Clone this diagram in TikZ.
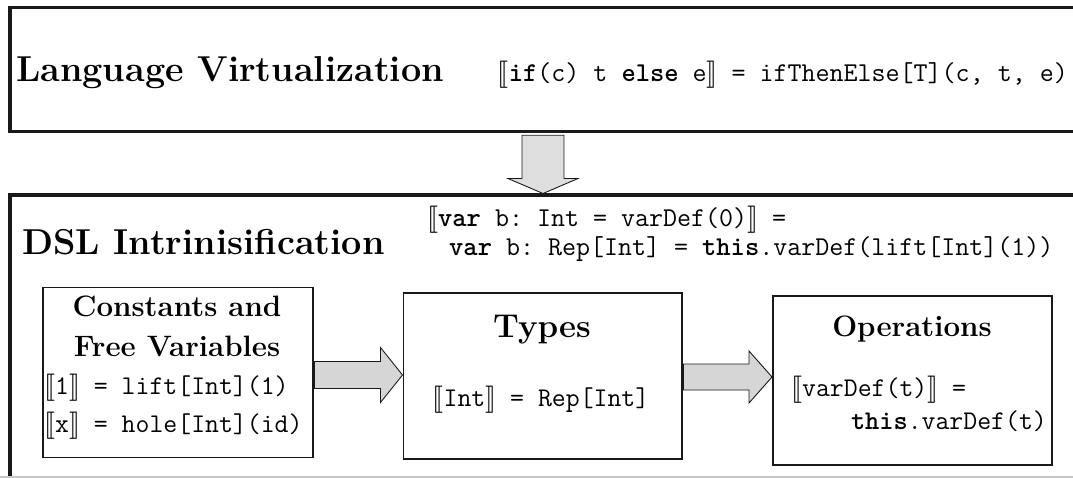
\documentclass[tikz,border=0pt]{standalone}
\usepackage{fontspec}
\usepackage{stmaryrd}
\usepackage{graphicx}
\usetikzlibrary{calc}

\definecolor{ink}{gray}{0.1}
\definecolor{arrowfill}{gray}{0.84}
\definecolor{downfill}{gray}{0.87}
\definecolor{edgegray}{gray}{0.78}

% semantic brackets, scaled to the code font
\newcommand{\lbr}{\scalebox{2.72}{\fontsize{10}{12}\selectfont$\llbracket$}}
\newcommand{\rbr}{\scalebox{2.72}{\fontsize{10}{12}\selectfont$\rrbracket$}}

\tikzset{
  frame/.style={draw=ink, line width=3.5pt, inner sep=0},
  ibox/.style={draw=ink, line width=1.6pt, inner sep=0},
  blk/.style={draw=ink, line width=0.9pt, fill=arrowfill, line join=miter},
  ttl/.style={font=\fontsize{36}{40}\selectfont\bfseries, anchor=base west, inner sep=0},
  hd/.style={font=\fontsize{29.5}{32}\selectfont\bfseries, anchor=base, inner sep=0},
  code/.style={font=\fontsize{27.2}{28}\selectfont\ttfamily\frenchspacing, inner sep=0},
  bcode/.style={font=\fontsize{27}{28}\selectfont\ttfamily\frenchspacing, inner sep=0},
}

\begin{document}
\begin{tikzpicture}[x=1pt,y=-1pt]
\useasboundingbox (0,0) rectangle (1073,478);
\clip (0,0) rectangle (1073,478);

% stage frames
\node[frame, anchor=north west, minimum width=1100, minimum height=124] (virt) at (8,6) {};
\node[frame, anchor=north west, minimum width=1100, minimum height=400] (intr) at (8,193.5) {};
\draw[edgegray, line width=1.2pt] (0,477) -- (1073,477);

% language virtualization
\node[ttl] (lvt) at (16,82) {Language Virtualization};
\node[code, anchor=base east] (lvc) at (1068,82)
  {\lbr\textbf{if}(c) t \textbf{else} e\rbr{} = ifThenElse[T](c, t, e)};

% DSL intrinsification
\node[ttl] (dst) at (22,255) {DSL Intrinisification};
\node[code, anchor=base west] (dc1) at (427,227)
  {\lbr\textbf{var} b: Int = varDef(0)\rbr{} =};
\node[code, anchor=base west] (dc2) at (449,256)
  {\textbf{var} b: Rep[Int] = \textbf{this}.varDef(lift[Int](1))};

% inner boxes
\node[ibox, anchor=north west, minimum width=270, minimum height=170] (cfv) at (42,286.5) {};
\node[ibox, anchor=north west, minimum width=278.5, minimum height=166] (typ) at (402.5,292) {};
\node[ibox, anchor=north west, minimum width=279, minimum height=169] (ops) at (772,295) {};

\node[hd] (cfv1) at (177,316.5) {Constants and};
\node[hd] (cfv2) at (177,356) {Free Variables};
\node[bcode, anchor=base west] (cfv3) at (44,394) {\lbr1\rbr{} = lift[Int](1)};
\node[bcode, anchor=base west] (cfv4) at (44,432) {\lbr x\rbr{} = hole[Int](id)};

\node[font=\fontsize{33}{36}\selectfont\bfseries, anchor=base, inner sep=0] (typ1) at (542,337) {Types};
\node[bcode, anchor=base] (typ2) at (541,406) {\lbr Int\rbr{} = Rep[Int]};

\node[hd] (ops1) at (912,336) {Operations};
\node[bcode, anchor=base west] (ops2) at (791,396) {\lbr varDef(t)\rbr{} =};
\node[bcode, anchor=base east] (ops3) at (1047,429) {\textbf{this}.varDef(t)};

% block arrows
\coordinate (d0) at (virt.south -| 543,0);
\coordinate (d1) at (intr.north -| 543,0);
\draw[blk, fill=downfill] ($(d0)+(-21,1.8)$) -- ($(d1)+(-21,-15)$) -- ($(d1)+(-35,-15)$) -- (d1)
  -- ($(d1)+(35,-15)$) -- ($(d1)+(21,-15)$) -- ($(d0)+(21,1.8)$) -- cycle;

\coordinate (a1s) at (cfv.east |- 0,375);
\coordinate (a1e) at (typ.west |- 0,375);
\draw[blk] ($(a1s)+(0.8,-13.5)$) -- ($(a1e)+(-22,-13.5)$) -- ($(a1e)+(-22,-27.5)$) -- (a1e)
  -- ($(a1e)+(-22,27.5)$) -- ($(a1e)+(-22,13.5)$) -- ($(a1s)+(0.8,13.5)$) -- cycle;

\coordinate (a2s) at (typ.east |- 0,377);
\coordinate (a2e) at (ops.west |- 0,377);
\draw[blk] ($(a2s)+(0.8,-13)$) -- ($(a2e)+(-23,-13)$) -- ($(a2e)+(-23,-26)$) -- (a2e)
  -- ($(a2e)+(-23,26)$) -- ($(a2e)+(-23,13)$) -- ($(a2s)+(0.8,13)$) -- cycle;
\end{tikzpicture}
\end{document}
